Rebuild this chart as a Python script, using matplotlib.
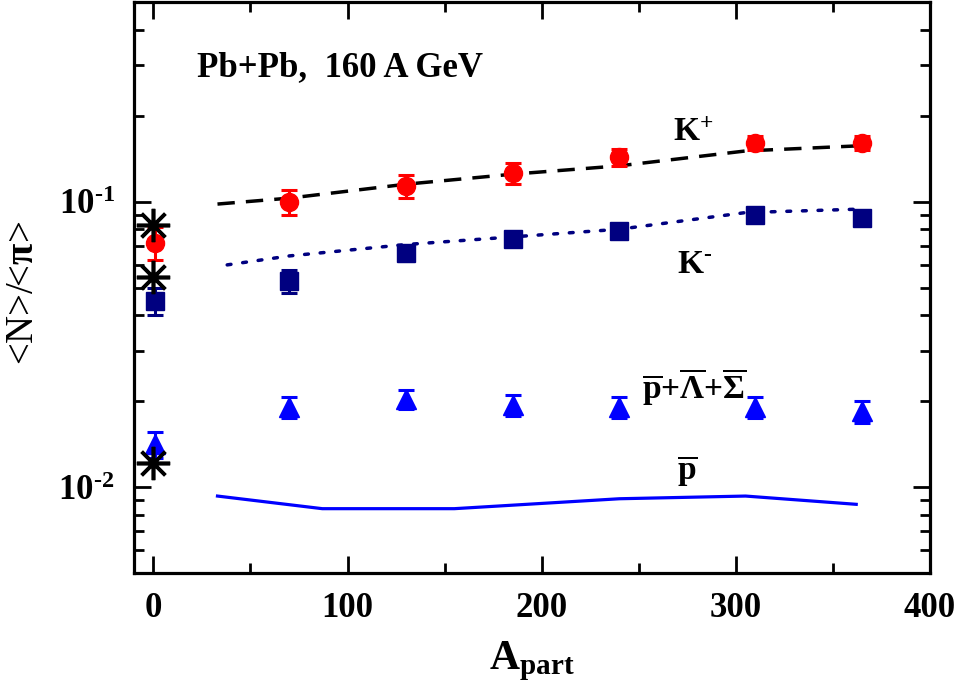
import matplotlib
matplotlib.use("Agg")
import matplotlib.pyplot as plt
from matplotlib.ticker import LogLocator, FixedLocator, NullFormatter, FuncFormatter
import math

plt.rcParams['font.family'] = ['Liberation Serif', 'DejaVu Serif']
plt.rcParams['font.weight'] = 'bold'
plt.rcParams['mathtext.fontset'] = 'custom'
plt.rcParams['mathtext.rm'] = 'Liberation Serif:bold'
plt.rcParams['mathtext.bf'] = 'Liberation Serif:bold'
plt.rcParams['mathtext.it'] = 'Liberation Serif:bold'
plt.rcParams['mathtext.default'] = 'rm'

# ---------------- data ----------------
a_part = [70, 130, 185, 240, 310, 365]
kplus = [0.100, 0.113, 0.126, 0.143, 0.161, 0.160]
kplus_err = [0.010, 0.0105, 0.0105, 0.010, 0.009, 0.009]
kminus = [0.0527, 0.0658, 0.0738, 0.0789, 0.0897, 0.0879]
kminus_err = [0.005, 0.004, 0.004, 0.004, 0.004, 0.004]
pbar_hyp = [0.0191, 0.0203, 0.0194, 0.0190, 0.0191, 0.0184]
pbar_hyp_err = [0.0016, 0.0016, 0.0016, 0.0016, 0.0016, 0.0016]

pp_x = [1]
pp_kplus = [0.0718]
pp_kplus_err = [0.0095]
pp_kminus = [0.0449]
pp_kminus_err = [0.005]
pp_pbar_hyp = [0.0141]
pp_pbar_hyp_err = [0.0015]

star_x = [0, 0, 0]
star_y = [0.0829, 0.0542, 0.0121]

kplus_model_x = [33, 70, 130, 185, 240, 305, 362]
kplus_model = [0.098, 0.1028, 0.115, 0.1247, 0.1334, 0.1504, 0.1566]
kminus_model_x = [38, 70, 130, 185, 240, 305, 362]
kminus_model = [0.060, 0.0645, 0.0707, 0.0752, 0.080, 0.0915, 0.094]
pbar_model_x = [33, 87, 155, 240, 305, 362]
pbar_model = [0.0093, 0.0084, 0.0084, 0.0091, 0.0093, 0.0087]

xticks = [0, 100, 200, 300, 400]
yticks = [0.01, 0.1]

# ---------------- figure ----------------
fig = plt.figure(figsize=(9.61, 6.96), dpi=100)
ax = fig.add_axes([134/961, (696-573)/696, (930-134)/961, (573-2)/696])

RED = '#ff0000'
NAVY = '#000080'
BLUE = '#0000ff'

ax.plot(kplus_model_x, kplus_model, color='black', lw=2.5, dashes=[5, 3.2], zorder=2)
ax.plot(kminus_model_x, kminus_model, color=NAVY, lw=2.5, dashes=[1.1, 3.4],
        dash_capstyle='round', zorder=2)
ax.plot(pbar_model_x, pbar_model, color=BLUE, lw=2.3, zorder=2)

eb = dict(capsize=6, capthick=2.2, elinewidth=2.2, ls='none', zorder=3, clip_on=False)
ax.errorbar(a_part, kplus, yerr=kplus_err, fmt='o', color=RED, ms=13, **eb)
ax.errorbar(a_part, kminus, yerr=kminus_err, fmt='s', color=NAVY, ms=12.5, **eb)
ax.errorbar(a_part, pbar_hyp, yerr=pbar_hyp_err, fmt='^', color=BLUE, ms=14, **eb)

ax.errorbar(pp_x, pp_kplus, yerr=pp_kplus_err, fmt='o', color=RED, ms=13, **eb)
ax.errorbar(pp_x, pp_kminus, yerr=pp_kminus_err, fmt='s', color=NAVY, ms=12.5, **eb)
ax.errorbar(pp_x, pp_pbar_hyp, yerr=pp_pbar_hyp_err, fmt='^', color=BLUE, ms=14, **eb)
ax.plot(star_x, star_y, ls='none', marker=(8, 2, 0), ms=24, mew=2.6,
        color='black', zorder=4, clip_on=False)

ax.set_yscale('log')
ax.set_xlim(-10, 400)
ax.set_ylim(0.005, 0.5)


def log_fmt(v, pos):
    e = int(round(math.log10(v)))
    return r'$10^{\text{%d}}$' % e


ax.xaxis.set_major_locator(FixedLocator(xticks))
ax.xaxis.set_minor_locator(FixedLocator([50, 150, 250, 350]))
ax.yaxis.set_major_locator(FixedLocator(yticks))
ax.yaxis.set_minor_locator(LogLocator(base=10, subs=[2, 3, 4, 5, 6, 7, 8, 9], numticks=10))
ax.yaxis.set_major_formatter(FuncFormatter(log_fmt))
ax.yaxis.set_minor_formatter(NullFormatter())

for s in ax.spines.values():
    s.set_linewidth(2.3)
ax.tick_params(which='both', direction='in', top=True, right=True, width=2.0)
ax.tick_params(which='major', length=12, labelsize=25, pad=14)
ax.tick_params(which='minor', length=7)

ax.set_xlabel(r'$\mathbf{A}_{\mathbf{part}}$', fontsize=30, labelpad=10)
ax.set_ylabel(r'<N>/<$\mathbf{\pi}$>', fontsize=28)
ax.yaxis.set_label_coords(-0.115, 0.49)

ax.text(22.7, 0.2756, 'Pb+Pb,  160 A GeV', fontsize=25, fontweight='bold', va='baseline')
ax.text(267.5, 0.163, r'K$^{+}$', fontsize=24, va='baseline')
ax.text(269.6, 0.0562, r'K$^{\text{-}}$', fontsize=24, va='baseline')
ax.text(251.5, 0.0205, r'$\overline{\mathbf{p}}\mathbf{+}\overline{\mathbf{\Lambda}}\mathbf{+}\overline{\mathbf{\Sigma}}$',
        fontsize=24, va='baseline')
ax.text(269.6, 0.01069, r'$\overline{\mathbf{p}}$', fontsize=24, va='baseline')

fig.savefig('out.png', dpi=100)
